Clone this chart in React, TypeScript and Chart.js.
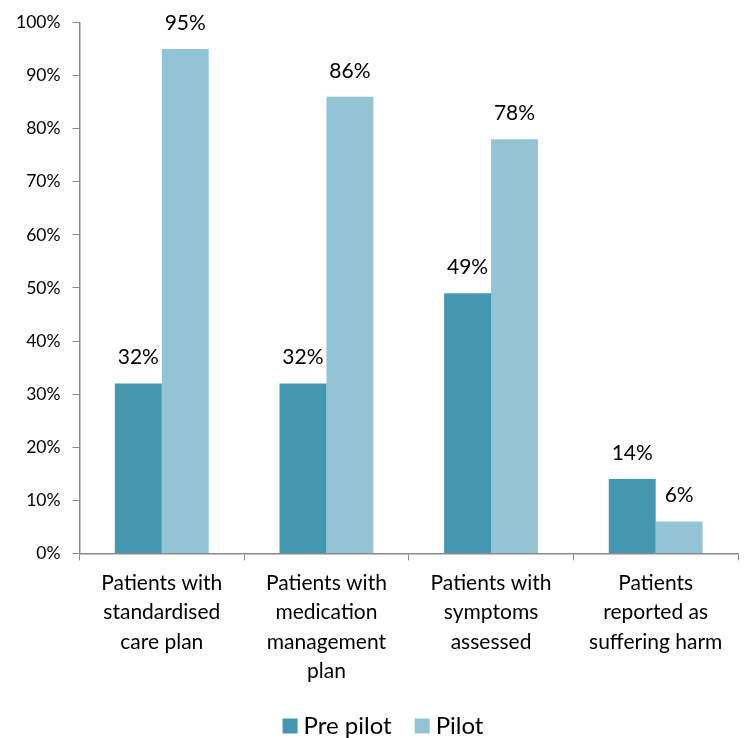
import React, { useEffect, useRef } from "react";
import { Chart, registerables } from "chart.js";

Chart.register(...registerables);

const categories: string[][] = [
  ["Patients with", "standardised", "care plan"],
  ["Patients with", "medication", "management", "plan"],
  ["Patients with", "symptoms", "assessed"],
  ["Patients", "reported as", "suffering harm"],
];
const prePilot: number[] = [32, 32, 49, 14];
const pilot: number[] = [95, 86, 78, 6];
const seriesNames: string[] = ["Pre pilot", "Pilot"];
const colors: string[] = ["#4398AF", "#93C3D4"];

const FONT = "Lato, 'Open Sans', sans-serif";

const dataLabelPlugin = {
  id: "dataLabels",
  afterDatasetsDraw(chart: any) {
    const ctx = chart.ctx;
    ctx.save();
    ctx.font = `21px ${FONT}`;
    ctx.fillStyle = "#000";
    ctx.textAlign = "center";
    ctx.textBaseline = "middle";
    chart.data.datasets.forEach((ds: any, i: number) => {
      const meta = chart.getDatasetMeta(i);
      meta.data.forEach((bar: any, j: number) => {
        ctx.fillText(ds.data[j] + "%", bar.x, bar.y - 26);
      });
    });
    ctx.restore();
  },
};

const legendPlugin = {
  id: "customLegend",
  afterDraw(chart: any) {
    const ctx = chart.ctx;
    ctx.save();
    ctx.font = `24px ${FONT}`;
    ctx.textBaseline = "middle";
    ctx.textAlign = "left";
    const box = 15;
    const gapBoxText = 6;
    const gapItems = 23;
    const items = chart.data.datasets.map((ds: any) => ({
      label: ds.label,
      color: ds.backgroundColor,
      w: box + gapBoxText + ctx.measureText(ds.label).width,
    }));
    const total =
      items.reduce((s: number, it: any) => s + it.w, 0) + gapItems * (items.length - 1);
    const cx = chart.width / 2 + 11;
    let x = cx - total / 2;
    const y = chart.height - 12;
    items.forEach((it: any) => {
      ctx.fillStyle = it.color;
      ctx.fillRect(x, y - box / 2, box, box);
      ctx.fillStyle = "#000";
      ctx.fillText(it.label, x + box + gapBoxText, y);
      x += it.w + gapItems;
    });
    ctx.restore();
  },
};

export default function App() {
  const ref = useRef<HTMLCanvasElement>(null);
  useEffect(() => {
    document.body.style.margin = "0";
    const chart = new Chart(ref.current!, {
      type: "bar",
      data: {
        labels: categories,
        datasets: [
          { label: seriesNames[0], data: prePilot, backgroundColor: colors[0] },
          { label: seriesNames[1], data: pilot, backgroundColor: colors[1] },
        ],
      },
      options: {
        animation: false,
        responsive: false,
        maintainAspectRatio: false,
        datasets: { bar: { categoryPercentage: 0.57, barPercentage: 1 } },
        layout: { padding: { top: 12, right: 6, left: 4, bottom: 44 } },
        plugins: {
          legend: { display: false },
          tooltip: { enabled: false },
        },
        scales: {
          x: {
            grid: {
              display: true,
              drawOnChartArea: false,
              drawTicks: true,
              tickLength: 7,
              color: "#898989",
              offset: true,
            },
            border: { color: "#898989", width: 1.5 },
            ticks: {
              font: { family: FONT, size: 21, lineHeight: 1.4 },
              color: "#000",
              maxRotation: 0,
              autoSkip: false,
              padding: 8,
            },
          },
          y: {
            min: 0,
            max: 100,
            grid: {
              display: true,
              drawOnChartArea: false,
              drawTicks: true,
              tickLength: 7,
              color: "#898989",
            },
            border: { color: "#898989", width: 1.5 },
            ticks: {
              stepSize: 10,
              font: { family: FONT, size: 17.5 },
              color: "#000",
              padding: 12,
              callback: (v: any) => v + "%",
            },
          },
        },
      },
      plugins: [dataLabelPlugin, legendPlugin],
    });
    return () => chart.destroy();
  }, []);
  return (
    <div style={{ width: 744, height: 738 }}>
      <canvas ref={ref} width={744} height={738} />
    </div>
  );
}
